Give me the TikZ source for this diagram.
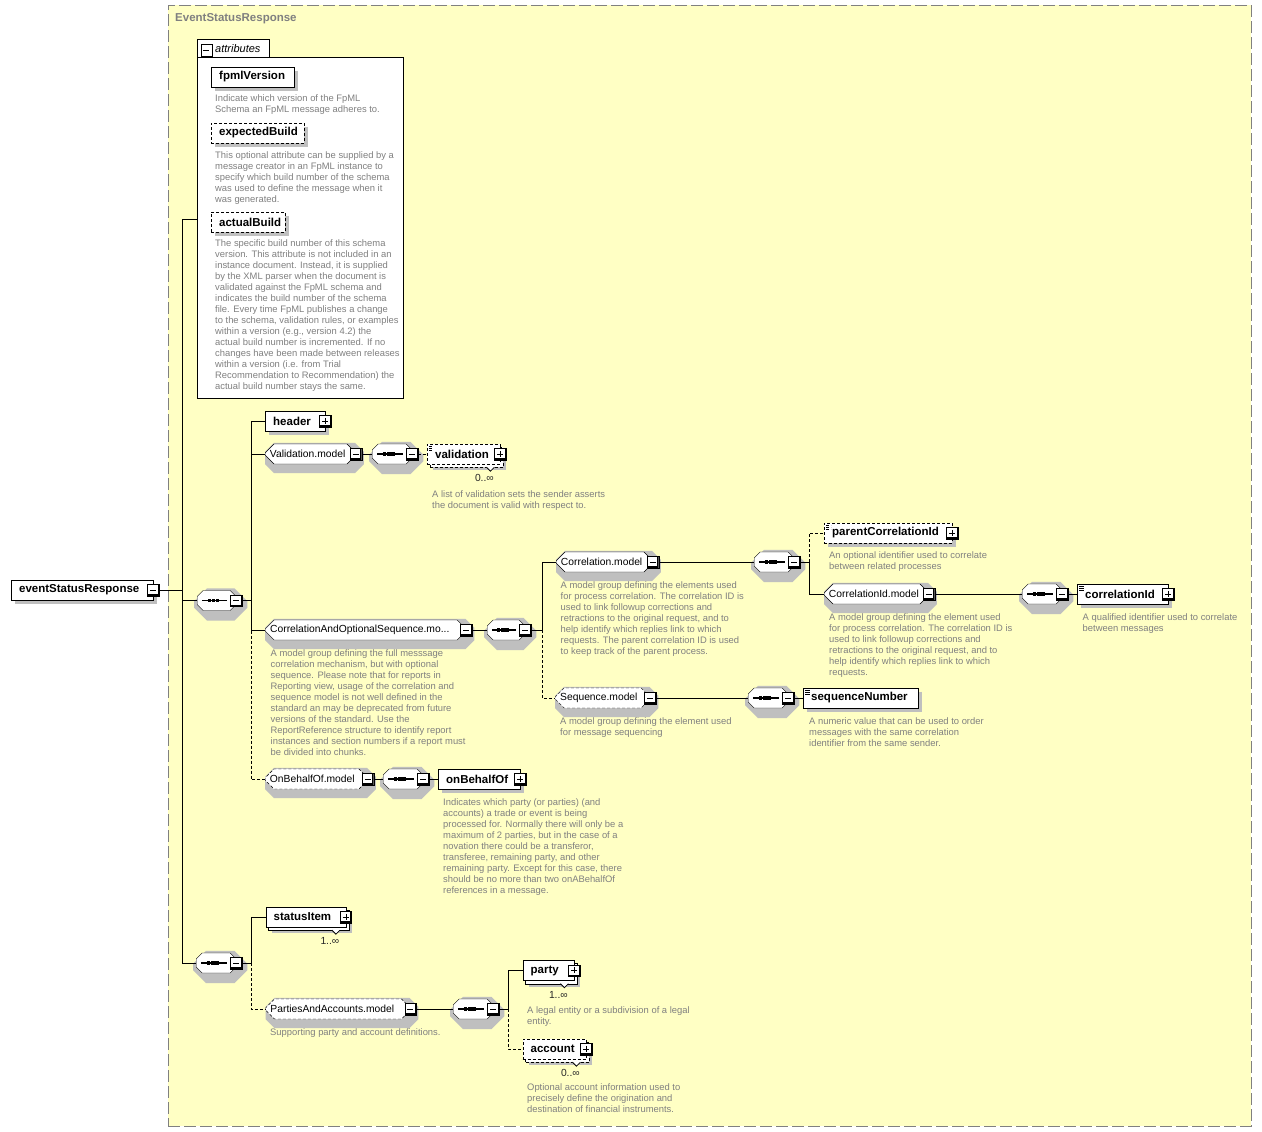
\documentclass[tikz,border=0pt]{standalone}
\usepackage{fontspec}
\setmainfont{Liberation Sans}
\usetikzlibrary{positioning, calc, fit, shapes.misc}

\definecolor{xsyellow}{HTML}{FFFFC4}
\definecolor{xsgray}{HTML}{808080}

\pgfdeclarelayer{back}
\pgfdeclarelayer{shade}
\pgfsetlayers{back,shade,main}

% fixed-width labels, text flush left
\newcommand{\elbl}[2]{\hbox to #1pt{\hskip 8pt\relax #2\hss}}
\newcommand{\glbl}[2]{\hbox to #1pt{\hskip 1pt\relax #2\hss}}
% occurrence notch under a repeated element
\newcommand{\notch}[1]{\draw[fill=white, line width=0.8pt, solid]
  ([xshift=-14pt, yshift=-3pt]#1.south east) -- ++(4pt,-4pt) -- ++(4pt,4pt);}

\begin{document}
\begin{tikzpicture}[
    x=1pt, y=-1pt, line width=1pt,
    base/.style={draw, fill=white, rectangle, anchor=west, inner sep=0pt,
                 minimum height=20pt, font=\fontsize{11.5}{13}\selectfont\bfseries},
    elem/.style={base},
    optelem/.style={elem, dash pattern=on 3pt off 2pt},
    multi/.style={base},
    optmulti/.style={multi, dash pattern=on 3pt off 2pt},
    simple/.style={path picture={
        \foreach \k in {2,4,6}
          \draw[line width=0.8pt] ([xshift=2pt, yshift=-\k pt]path picture bounding box.north west)
             -- ++(5pt,0pt);}},
    grp/.style={draw, fill=white, chamfered rectangle, chamfered rectangle xsep=4pt,
                chamfered rectangle ysep=5pt, anchor=west, inner sep=0pt,
                minimum height=20pt, font=\fontsize{10.3}{12}\selectfont},
    optgrp/.style={grp, dash pattern=on 3pt off 2pt},
    seq/.style={grp, chamfered rectangle xsep=7pt, chamfered rectangle ysep=6pt,
                path picture={
        \draw[line width=1.2pt] ([xshift=5pt]path picture bounding box.west)
           -- ([xshift=-9pt]path picture bounding box.east);
        \foreach \d in {-7.5,-3.3,0.9}
          \fill[black] ([xshift=\d pt]path picture bounding box.center)
             ++(-1.7pt,-1.7pt) rectangle ++(3.4pt,3.4pt);}},
    pmbox/.style={draw, fill=white, rectangle, minimum size=11.5pt, inner sep=0pt},
    minussign/.style={path picture={
        \draw ([xshift=2.5pt]path picture bounding box.west)
           -- ([xshift=-3pt]path picture bounding box.east);}},
    plussign/.style={path picture={
        \draw ([xshift=2.5pt]path picture bounding box.west)
           -- ([xshift=-3pt]path picture bounding box.east);
        \draw ([yshift=-2.5pt]path picture bounding box.north)
           -- ([yshift=3pt]path picture bounding box.south);}},
    pmedge/.style={postaction={path picture={
        \draw[line width=2.6pt] (path picture bounding box.north east)
           |- (path picture bounding box.south west);}}},
    minus/.style={pmbox, minussign, pmedge},
    plus/.style={pmbox, plussign, pmedge},
    shadeline/.style={draw=black!25, solid, line join=miter},
    shadegrp/.style={chamfered rectangle, fill=black!25, inner sep=0pt,
                     xshift=4pt, yshift=-4pt},
    desc/.style={anchor=north west, inner sep=0pt, align=left, text=xsgray,
                 font=\fontsize{9.4}{11}\selectfont},
    card/.style={inner sep=0pt, font=\fontsize{10.3}{12}\selectfont, text=black!85},
    optlink/.style={dash pattern=on 3pt off 2pt},
]
\useasboundingbox (0,0) rectangle (1262,1132);

% =================================================================
%  COMPLEX TYPE FRAME + ATTRIBUTE BOX (back layer)
% =================================================================
\begin{pgfonlayer}{back}
\node[draw=white, fill=white, anchor=north west, minimum width=1262pt, minimum height=1132pt,
      inner sep=0pt] (page) at (0,0) {};
\node[draw=xsgray, fill=xsyellow, dash pattern=on 12pt off 4pt, anchor=north west,
      minimum width=1083pt, minimum height=1121pt, inner sep=0pt] (frame) at (168,5) {};
\node[draw, fill=white, anchor=north west, minimum width=206pt, minimum height=341pt,
      inner sep=0pt] (attrbox) at (197,57) {};
\draw[fill=white] ([yshift=-0.5pt]attrbox.north west) |- ++(72,-18.5) -- ++(0,18.5);
\end{pgfonlayer}
\node[anchor=west, inner sep=0pt, text=xsgray,
      font=\fontsize{11.5}{13}\selectfont\bfseries] (title) at (175,19) {EventStatusResponse};

% =================================================================
%  ATTRIBUTES
% =================================================================
\node[pmbox, minussign] (attrm) at (206.5,50) {};
\node[anchor=west, inner sep=0pt, font=\fontsize{11}{13}\selectfont\itshape]
      (attrlbl) at (215,48.5) {attributes};

\node[elem]    (fpmlVersion)   at (211,77)  {\elbl{83}{fpmlVersion}};
\node[desc]    (fpmlVersiond)  at (215,94.5)
      {Indicate which version of the FpML\\Schema an FpML message adheres to.};
\node[optelem] (expectedBuild) at (211,133) {\elbl{93}{expectedBuild}};
\node[desc]    (expectedBuildd) at (215,151.5)
      {This optional attribute can be supplied by a\\message creator in an FpML instance to\\specify which build number of the schema\\was used to define the message when it\\was generated.};
\node[optelem] (actualBuild)   at (211,222) {\elbl{74}{actualBuild}};
\node[desc]    (actualBuildd)  at (215,239.8)
      {The specific build number of this schema\\version. This attribute is not included in an\\instance document. Instead, it is supplied\\by the XML parser when the document is\\validated against the FpML schema and\\indicates the build number of the schema\\file. Every time FpML publishes a change\\to the schema, validation rules, or examples\\within a version (e.g., version 4.2) the\\actual build number is incremented. If no\\changes have been made between releases\\within a version (i.e. from Trial\\Recommendation to Recommendation) the\\actual build number stays the same.};

% =================================================================
%  ROOT ELEMENT
% =================================================================
\node[elem]  (root)  at (11,590) {\elbl{142}{eventStatusResponse}};
\node[minus] (rootm) at (root.east) {};

% =================================================================
%  MAIN SEQUENCE
% =================================================================
\node[seq]   (s1)  at (197,600.5) {\hbox to 39pt{}};
\node[minus] (s1m) at (s1.east) {};

\node[elem] (header)  at (265,421) {\elbl{60}{header}};
\node[plus] (headerp) at (header.east) {};

\node[grp]   (valmodel)  at (265,454) {\glbl{83}{Validation.model}};
\node[minus] (valmodelm) at (valmodel.east) {};
\node[seq]   (sV)  at (372,454) {\hbox to 40pt{}};
\node[minus] (sVm) at (sV.east) {};
\node[optmulti, simple] (validation) at (427,454) {\elbl{73}{validation}};
\node[plus]  (validationp) at (validation.east) {};
\notch{validation}
\node[card]  (validationc) at ([xshift=-16pt, yshift=-14pt]validation.south east) {0..∞};
\node[desc]  (validationd) at (432,490.5)
      {A list of validation sets the sender asserts\\the document is valid with respect to.};

\node[grp]   (caos)  at (265,630) {\glbl{193}{CorrelationAndOptionalSequence.mo...}};
\node[minus] (caosm) at (caos.east) {};
\node[desc]  (caosd) at (270.5,649)
      {A model group defining the full messsage\\correlation mechanism, but with optional\\sequence. Please note that for reports in\\Reporting view, usage of the correlation and\\sequence model is not well defined in the\\standard an may be deprecated from future\\versions of the standard. Use the\\ReportReference structure to identify report\\instances and section numbers if a report must\\be divided into chunks.};
\node[seq]   (sC)  at (487,630) {\hbox to 38pt{}};
\node[minus] (sCm) at (sC.east) {};

% correlation branch
\node[grp]   (corrmodel)  at (556,562) {\glbl{89}{Correlation.model}};
\node[minus] (corrmodelm) at (corrmodel.east) {};
\node[desc]  (corrmodeld) at (560.5,581.5)
      {A model group defining the elements used\\for process correlation. The correlation ID is\\used to link followup corrections and\\retractions to the original request, and to\\help identify which replies link to which\\requests. The parent correlation ID is used\\to keep track of the parent process.};
\node[seq]   (sCorr)  at (754,562) {\hbox to 40pt{}};
\node[minus] (sCorrm) at (sCorr.east) {};

\node[optelem, simple] (parentCorr) at (824,533) {\elbl{128}{parentCorrelationId}};
\node[plus]  (parentCorrp) at (parentCorr.east) {};
\node[desc]  (parentCorrd) at (829,551.5)
      {An optional identifier used to correlate\\between related processes};

\node[grp]   (cidmodel)  at (824,594) {\glbl{97}{CorrelationId.model}};
\node[minus] (cidmodelm) at (cidmodel.east) {};
\node[desc]  (cidmodeld) at (829,613)
      {A model group defining the element used\\for process correlation. The correlation ID is\\used to link followup corrections and\\retractions to the original request, and to\\help identify which replies link to which\\requests.};
\node[seq]   (sCid)  at (1022,594) {\hbox to 40pt{}};
\node[minus] (sCidm) at (sCid.east) {};
\node[elem, simple] (corrId) at (1077,594) {\elbl{91}{correlationId}};
\node[plus]  (corrIdp) at (corrId.east) {};
\node[desc]  (corrIdd) at (1082.5,613)
      {A qualified identifier used to correlate\\between messages};

% sequence branch
\node[optgrp] (seqmodel)  at (555,698) {\glbl{87}{Sequence.model}};
\node[minus]  (seqmodelm) at (seqmodel.east) {};
\node[desc]   (seqmodeld) at (560,717.5)
      {A model group defining the element used\\for message sequencing};
\node[seq]    (sSeq)  at (748,698) {\hbox to 40pt{}};
\node[minus]  (sSeqm) at (sSeq.east) {};
\node[elem, simple] (seqNum) at (803,698) {\elbl{115}{sequenceNumber}};
\node[desc]   (seqNumd) at (809,717.5)
      {A numeric value that can be used to order\\messages with the same correlation\\identifier from the same sender.};

% on behalf of
\node[optgrp] (onbmodel)  at (265,779) {\glbl{95}{OnBehalfOf.model}};
\node[minus]  (onbmodelm) at (onbmodel.east) {};
\node[seq]    (sO)  at (383,779) {\hbox to 40pt{}};
\node[minus]  (sOm) at (sO.east) {};
\node[elem]   (onBehalfOf)  at (438,779) {\elbl{82}{onBehalfOf}};
\node[plus]   (onBehalfOfp) at (onBehalfOf.east) {};
\node[desc]   (onBehalfOfd) at (443,798)
      {Indicates which party (or parties) (and\\accounts) a trade or event is being\\processed for. Normally there will only be a\\maximum of 2 parties, but in the case of a\\novation there could be a transferor,\\transferee, remaining party, and other\\remaining party. Except for this case, there\\should be no more than two onABehalfOf\\references in a message.};

% =================================================================
%  SECOND SEQUENCE
% =================================================================
\node[seq]   (s3)  at (196,963) {\hbox to 40pt{}};
\node[minus] (s3m) at (s3.east) {};

\node[multi] (statusItem)  at (265.5,917) {\elbl{80}{statusItem}};
\node[plus]  (statusItemp) at (statusItem.east) {};
\notch{statusItem}
\node[card]  (statusItemc) at ([xshift=-16pt, yshift=-14pt]statusItem.south east) {1..∞};

\node[optgrp] (paa)  at (265.5,1009) {\glbl{137}{PartiesAndAccounts.model}};
\node[minus]  (paam) at (paa.east) {};
\node[desc]   (paad) at (270,1028) {Supporting party and account definitions.};
\node[seq]    (sP)  at (453,1009) {\hbox to 40pt{}};
\node[minus]  (sPm) at (sP.east) {};

\node[multi] (party)  at (522.5,970.5) {\elbl{51.5}{party}};
\node[plus]  (partyp) at (party.east) {};
\notch{party}
\node[card]  (partyc) at ([xshift=-16pt, yshift=-14pt]party.south east) {1..∞};
\node[desc]  (partyd) at (527,1006.5)
      {A legal entity or a subdivision of a legal\\entity.};

\node[optmulti] (account)  at (522.5,1049) {\elbl{63.5}{account}};
\node[plus]     (accountp) at (account.east) {};
\notch{account}
\node[card]     (accountc) at ([xshift=-16pt, yshift=-14pt]account.south east) {0..∞};
\node[desc]     (accountd) at (527,1083.8)
      {Optional account information used to\\precisely define the origination and\\destination of financial instruments.};

% =================================================================
%  SHADOWS AND REPEAT COPIES (shade layer)
% =================================================================
\begin{pgfonlayer}{shade}
\foreach \n in {root, fpmlVersion, expectedBuild, actualBuild, header,
                parentCorr, corrId, seqNum, onBehalfOf}
  \draw[shadeline, line width=4pt] ([xshift=2pt, yshift=-4pt]\n.north east)
     |- ([xshift=4pt, yshift=-2pt]\n.south west);
\foreach \n/\cx/\cy in {valmodel/4/5, caos/4/5, corrmodel/4/5, cidmodel/4/5,
                        seqmodel/4/5, onbmodel/4/5, paa/4/5,
                        s1/7/6, sV/7/6, sC/7/6, sCorr/7/6, sCid/7/6,
                        sSeq/7/6, sO/7/6, s3/7/6, sP/7/6}
  \node[shadegrp, chamfered rectangle xsep=\cx pt,
        chamfered rectangle ysep=\cy pt, fit=(\n)] (\n-sh) {};
\foreach \n in {statusItem, party} {
  \draw[shadeline, line width=6pt] ([xshift=3pt, yshift=-6pt]\n.north east)
     |- ([xshift=6pt, yshift=-3pt]\n.south west);
  \node[draw, fill=white, inner sep=0pt, fit=(\n), xshift=3pt, yshift=-3pt] (\n-copy) {};
}
\foreach \n in {validation, account} {
  \draw[shadeline, line width=6pt] ([xshift=3pt, yshift=-6pt]\n.north east)
     |- ([xshift=6pt, yshift=-3pt]\n.south west);
  \node[draw, fill=white, optlink, inner sep=0pt, fit=(\n), xshift=3pt, yshift=-3pt] (\n-copy) {};
}
\end{pgfonlayer}

% =================================================================
%  CONNECTORS
% =================================================================
\coordinate (t0) at ($(rootm.east)+(22.5,0)$);
\draw (rootm.east) -- (t0);
\draw (t0) |- ([yshift=9pt]attrbox.west);
\draw (t0) |- (s1.west);
\draw (t0) |- (s3.west);

\coordinate (t1) at ($(s1m.east)+(8.5,0)$);
\draw (s1m.east) -- (t1) |- (header.west);
\draw (t1) |- (valmodel.west);
\draw (t1) |- (caos.west);
\draw[optlink] (t1) |- (onbmodel.west);

\draw (valmodelm.east) -- (sV.west);
\draw[optlink] (sVm.east) -- (validation.west);

\draw (caosm.east) -- (sC.west);
\coordinate (t2) at ($(sCm.east)+(10.5,0)$);
\draw (sCm.east) -- (t2) |- (corrmodel.west);
\draw[optlink] (t2) |- (seqmodel.west);

\draw (corrmodelm.east) -- (sCorr.west);
\coordinate (t3) at ($(sCorrm.east)+(9,0)$);
\draw (sCorrm.east) -- (t3) |- (cidmodel.west);
\draw[optlink] (t3) |- (parentCorr.west);
\draw (cidmodelm.east) -- (sCid.west);
\draw (sCidm.east) -- (corrId.west);

\draw (seqmodelm.east) -- (sSeq.west);
\draw (sSeqm.east) -- (seqNum.west);

\draw (onbmodelm.east) -- (sO.west);
\draw (sOm.east) -- (onBehalfOf.west);

\coordinate (t4) at ($(s3m.east)+(8.5,0)$);
\draw (s3m.east) -- (t4) |- (statusItem.west);
\draw[optlink] (t4) |- (paa.west);

\draw (paam.east) -- (sP.west);
\coordinate (t5) at ($(sPm.east)+(9,0)$);
\draw (sPm.east) -- (t5) |- (party.west);
\draw[optlink] (t5) |- (account.west);

\end{tikzpicture}
\end{document}
